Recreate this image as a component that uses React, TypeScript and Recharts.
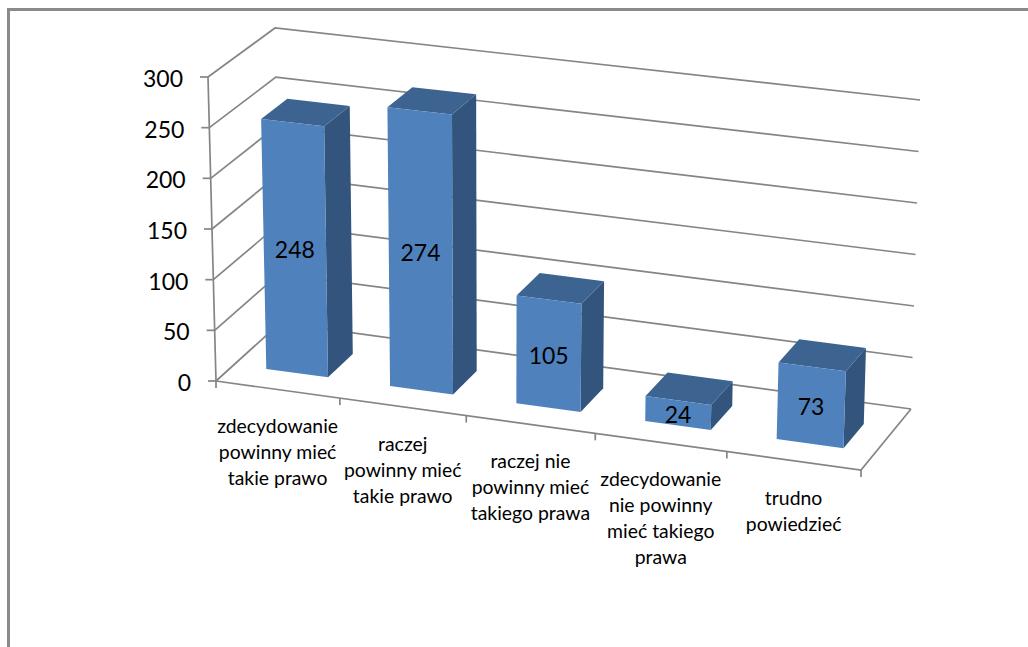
import React from "react";
import { Bar, BarChart, CartesianGrid, LabelList, XAxis, YAxis } from "recharts";

// Chart data
const categories = [
  "zdecydowanie\npowinny mieć\ntakie prawo",
  "raczej\npowinny mieć\ntakie prawo",
  "raczej nie\npowinny mieć\ntakiego prawa",
  "zdecydowanie\nnie powinny\nmieć takiego\nprawa",
  "trudno\npowiedzieć",
];
const counts = [248, 274, 105, 24, 73];
const valueTicks = [0, 50, 100, 150, 200, 250, 300];
const rows = categories.map((category, i) => ({ category, count: counts[i] }));

// Flat plot rectangle handed to Recharts; the scales work in this space and
// every mark is then projected into the tilted box below.
const W = 1028;
const H = 647;
const plot = { left: 100, top: 100, width: 828, height: 447 };
const AXIS_BAND = 1;

type Pt = [number, number];

// Screen positions of the eight corners of the 3D box
const box = {
  frontLeftBottom: [216, 381] as Pt,
  frontLeftTop: [208, 77] as Pt,
  backLeftBottom: [280, 323] as Pt,
  backLeftTop: [275, 28] as Pt,
  frontRightBottom: [861, 470] as Pt,
  frontRightTop: [872, 150] as Pt,
  backRightBottom: [911, 409] as Pt,
  backRightTop: [920, 100] as Pt,
};

const mix = (a: Pt, b: Pt, t: number): Pt => [a[0] + (b[0] - a[0]) * t, a[1] + (b[1] - a[1]) * t];

// u: across the categories, v: up the value axis, d: front (0) to back (1)
function project(u: number, v: number, d: number): Pt {
  const persp = u * (0.95 + 0.05 * u);
  const frontLeft = mix(box.frontLeftBottom, box.frontLeftTop, v);
  const backLeft = mix(box.backLeftBottom, box.backLeftTop, v);
  const frontRight = mix(box.frontRightBottom, box.frontRightTop, v);
  const backRight = mix(box.backRightBottom, box.backRightTop, v);
  return mix(mix(frontLeft, backLeft, d), mix(frontRight, backRight, d), persp);
}

const toU = (x: number) => (x - plot.left) / plot.width;
const toV = (y: number) => (plot.top + plot.height - y) / plot.height;
const path = (pts: Pt[], close = false) =>
  "M" + pts.map((p) => `${p[0].toFixed(2)},${p[1].toFixed(2)}`).join("L") + (close ? "Z" : "");

const FONT = "Lato, sans-serif";
const LINE = "#858585";
const LINE_W = 1.7;
const FRONT = "#4f81bd";
const TOP = "#3d6491";
const SIDE = "#33547c";
const BAR_FRONT_DEPTH = 0.285;
const BAR_BACK_DEPTH = 0.685;
const BAR_U_SHIFT = 0.0025;

function GridLine(props: any) {
  const v = toV(props.y1);
  const isFloor = Math.abs(v) < 1e-6;
  return (
    <g key={props.index} fill="none" stroke={LINE} strokeWidth={LINE_W}>
      <path d={path([project(0, v, 0), project(0, v, 1), project(1, v, 1)])} />
      {isFloor && (
        <>
          <path d={path([project(0, 0, 0), project(0, 1, 0)])} />
          <path d={path([project(0, 0, 0), project(1, 0, 0), project(1, 0, 1)])} />
        </>
      )}
    </g>
  );
}

function ValueTick(props: any) {
  const v = toV(props.y);
  const [x, y] = project(0, v, 0);
  return (
    <g>
      <line x1={x - 8} y1={y} x2={x} y2={y} stroke={LINE} strokeWidth={LINE_W} />
      <text x={x - 25} y={y + 10} textAnchor="end" fontFamily={FONT} fontSize={23} fill="#000">
        {props.payload.value}
      </text>
    </g>
  );
}

function CategoryTick(props: any) {
  const u = toU(props.x);
  const half = 0.1;
  const [cx, cy] = project(u, 0, 0);
  const lines: string[] = String(props.payload.value).split("\n");
  const mark = (uu: number) => {
    const [mx, my] = project(uu, 0, 0);
    return <line x1={mx} y1={my} x2={mx} y2={my + 7} stroke={LINE} strokeWidth={LINE_W} />;
  };
  return (
    <g>
      {mark(u - half)}
      {props.index === categories.length - 1 && mark(u + half)}
      <text textAnchor="middle" fontFamily={FONT} fontSize={19.4} fill="#000">
        {lines.map((line, i) => (
          <tspan key={i} x={cx} y={cy + 44 + i * 26}>
            {line}
          </tspan>
        ))}
      </text>
    </g>
  );
}

function Bar3D(props: any) {
  const { x, y, width } = props;
  const u0 = toU(x) + BAR_U_SHIFT;
  const u1 = toU(x + width) + BAR_U_SHIFT;
  const vt = toV(y);
  const f = BAR_FRONT_DEPTH;
  const b = BAR_BACK_DEPTH;
  return (
    <g>
      <path d={path([project(u1, 0, f), project(u1, 0, b), project(u1, vt, b), project(u1, vt, f)], true)} fill={SIDE} />
      <path d={path([project(u0, vt, f), project(u1, vt, f), project(u1, vt, b), project(u0, vt, b)], true)} fill={TOP} />
      <path d={path([project(u0, 0, f), project(u1, 0, f), project(u1, vt, f), project(u0, vt, f)], true)} fill={FRONT} />
    </g>
  );
}

function FrontLabel(props: any) {
  const { x, y, width, value } = props;
  const u = toU(x + width / 2) + BAR_U_SHIFT;
  const [cx, cy] = project(u, toV(y) / 2, BAR_FRONT_DEPTH);
  return (
    <text x={cx} y={cy + 10} textAnchor="middle" fontFamily={FONT} fontSize={23} fill="#000">
      {value}
    </text>
  );
}

export default function App() {
  return (
    <div style={{ position: "absolute", left: 0, top: 0, width: W, height: H, overflow: "hidden", background: "#fff" }}>
      <div
        style={{
          position: "absolute",
          left: 7,
          top: 8,
          width: W,
          height: H,
          borderLeft: "3px solid #8a8a8a",
          borderTop: "3px solid #8a8a8a",
        }}
      />
      <BarChart
        width={W}
        height={H}
        data={rows}
        barCategoryGap="25%"
        margin={{
          left: plot.left - AXIS_BAND,
          top: plot.top,
          right: W - plot.left - plot.width,
          bottom: H - plot.top - plot.height - AXIS_BAND,
        }}
        style={{ position: "absolute", left: 0, top: 0 }}
      >
        <CartesianGrid horizontal={GridLine as any} vertical={false} />
        <XAxis dataKey="category" height={AXIS_BAND} interval={0} axisLine={false} tickLine={false} tick={CategoryTick as any} />
        <YAxis
          width={AXIS_BAND}
          domain={[0, 300]}
          ticks={valueTicks}
          interval={0}
          axisLine={false}
          tickLine={false}
          tick={ValueTick as any}
        />
        <Bar dataKey="count" shape={Bar3D as any} isAnimationActive={false}>
          <LabelList dataKey="count" content={FrontLabel as any} />
        </Bar>
      </BarChart>
    </div>
  );
}
